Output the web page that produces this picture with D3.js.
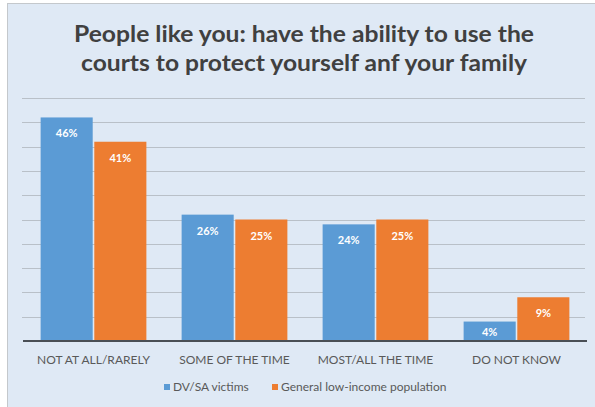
<!DOCTYPE html>
<html>
<head>
<meta charset="utf-8">
<script src="https://cdn.jsdelivr.net/npm/d3@7"></script>
<style>
  html, body { margin: 0; padding: 0; background: #ffffff; }
  svg { display: block; }
</style>
</head>
<body>
<svg id="chart" width="595" height="407"></svg>
<script>
const titleLines = ["People like you: have the ability to use the", "courts to protect yourself anf your family"];
const categories = ["NOT AT ALL/RARELY", "SOME OF THE TIME", "MOST/ALL THE TIME", "DO NOT KNOW"];
const seriesNames = ["DV/SA victims", "General low-income population"];
const dvsaValues = [46, 26, 24, 4];
const generalValues = [41, 25, 25, 9];
const yTicks = [0, 5, 10, 15, 20, 25, 30, 35, 40, 45, 50];
const colors = ["#5b9bd5", "#ed7d31"];

const svg = d3.select("#chart");
const W = 595, H = 407;

// background panel
svg.append("rect").attr("x", 7.5).attr("y", 3.5).attr("width", 600).attr("height", 420)
  .attr("fill", "#dfe9f5").attr("stroke", "#c4c8cc").attr("stroke-width", 1);

// title
const titleWidths = [460, 446];
const titleY = [42, 71];
svg.selectAll("text.title").data(titleLines).join("text")
  .attr("class", "title")
  .attr("x", 304).attr("y", (d, i) => titleY[i])
  .attr("text-anchor", "middle")
  .attr("font-family", "Lato, 'Open Sans', sans-serif")
  .attr("font-weight", "bold").attr("font-size", 22)
  .attr("fill", "#404040")
  .attr("textLength", (d, i) => titleWidths[i])
  .attr("lengthAdjust", "spacingAndGlyphs")
  .text(d => d);

const y = d3.scaleLinear().domain([0, 50]).range([341, 98]);
const x0 = d3.scaleBand().domain(categories).range([23, 587]).paddingInner(0.25).paddingOuter(0.125);
const x1 = d3.scaleBand().domain(seriesNames).range([0, x0.bandwidth()]).paddingInner(0.03);

// gridlines
svg.append("g").selectAll("line").data(yTicks.filter(t => t > 0)).join("line")
  .attr("x1", 22).attr("x2", 585)
  .attr("y1", d => Math.round(y(d)) + 0.5).attr("y2", d => Math.round(y(d)) + 0.5)
  .attr("stroke", "#b9c0c8").attr("stroke-width", 1);

const data = categories.map((c, i) => ({ cat: c, vals: [dvsaValues[i], generalValues[i]] }));

const groups = svg.append("g").selectAll("g").data(data).join("g")
  .attr("transform", d => `translate(${x0(d.cat)},0)`);

groups.selectAll("rect").data(d => d.vals.map((v, i) => ({ v, s: seriesNames[i], i })))
  .join("rect")
  .attr("x", d => x1(d.s)).attr("width", x1.bandwidth())
  .attr("y", d => y(d.v)).attr("height", d => y(0) - y(d.v))
  .attr("fill", d => colors[d.i]);

groups.selectAll("text").data(d => d.vals.map((v, i) => ({ v, s: seriesNames[i], i })))
  .join("text")
  .attr("x", d => x1(d.s) + x1.bandwidth() / 2)
  .attr("y", d => Math.min(y(d.v) + 20, y(0) - 5))
  .attr("text-anchor", "middle")
  .attr("font-family", "Lato, 'Open Sans', sans-serif")
  .attr("font-weight", "bold").attr("font-size", 11)
  .attr("fill", "#ffffff")
  .text(d => d.v + "%");

// x axis baseline
const xAxis = d3.axisBottom(x0).tickSize(0).tickPadding(14);
const ax = svg.append("g").attr("transform", `translate(0,${y(0)})`).call(xAxis);
ax.select(".domain").attr("d", "M23,0H587").attr("stroke", "#4a4f55").attr("stroke-width", 2);
ax.selectAll(".tick text")
  .attr("font-family", "Lato, 'Open Sans', sans-serif")
  .attr("font-size", 12).attr("fill", "#595959");

// legend
const legendX = [164, 272];
const lg = svg.append("g").selectAll("g").data(seriesNames).join("g")
  .attr("transform", (d, i) => `translate(${legendX[i]},384)`);
lg.append("rect").attr("width", 6).attr("height", 6).attr("fill", (d, i) => colors[i]);
lg.append("text").attr("x", 9).attr("y", 7)
  .attr("font-family", "Lato, 'Open Sans', sans-serif")
  .attr("font-size", 12).attr("fill", "#595959")
  .text(d => d);
</script>
</body>
</html>
